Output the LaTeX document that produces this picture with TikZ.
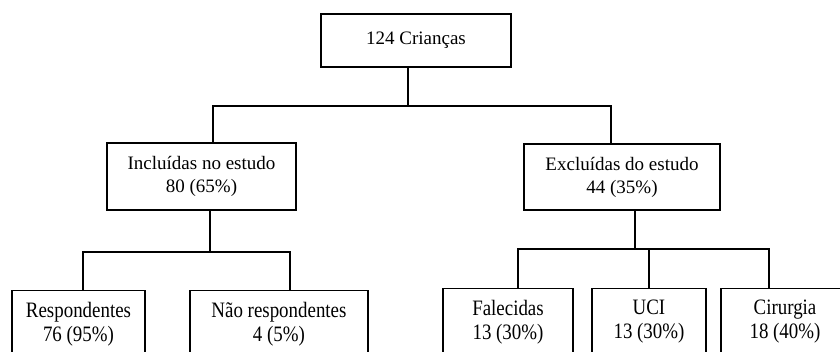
\documentclass[tikz,border=0pt]{standalone}
\usepackage{fontspec}
\setmainfont{Liberation Serif}
\newfontfamily\tallserif[FakeStretch=0.86]{Liberation Serif}
\usepackage{tikz}

\tikzset{
    box/.style={draw, line width=1.5pt, align=center, inner sep=2pt,
        font=\fontsize{19}{23}\selectfont},
    leaf/.style={box, minimum height=67pt,
        font=\tallserif\fontsize{22}{24}\selectfont},
    link/.style={line width=1.5pt}
}

\begin{document}
\begin{tikzpicture}[x=1pt, y=-1pt]
    % Frame
    \useasboundingbox (0,0) rectangle (840,351);
    \clip (0,0) rectangle (840,351);

    % Boxes
    \node [box, minimum width=190pt, minimum height=53pt] (total) at (416,40.5) {124 Crianças};
    \node [box, minimum width=189pt, minimum height=67pt] (incl) at (201.5,176.5) {Incluídas no estudo\\80 (65\%)};
    \node [box, minimum width=196pt, minimum height=66pt] (excl) at (622,177) {Excluídas do estudo\\44 (35\%)};
    \node [leaf, minimum width=133pt] (resp) at (78.5,324) {Respondentes\\76 (95\%)};
    \node [leaf, minimum width=178pt] (naor) at (279,324) {Não respondentes\\4 (5\%)};
    \node [leaf, minimum width=130pt] (fal) at (508,322) {Falecidas\\13 (30\%)};
    \node [leaf, minimum width=114pt] (uci) at (649,322) {UCI\\13 (30\%)};
    \node [leaf, minimum width=128pt] (cir) at (785,322) {Cirurgia\\18 (40\%)};

    % Junctions
    \coordinate (top) at (408,106);
    \coordinate (topL) at (213,106);
    \coordinate (topR) at (611,106);
    \coordinate (inc) at (210,252);
    \coordinate (incL) at (83,252);
    \coordinate (incR) at (290,252);
    \coordinate (exc) at (635,249);
    \coordinate (excL) at (518,249);
    \coordinate (excR) at (769,249);

    % Links
    \draw [link] (total.south -| top) -- (top);
    \draw [link] (incl.north -| topL) -- (topL) -- (topR) -- (excl.north -| topR);
    \draw [link] (incl.south -| inc) -- (inc);
    \draw [link] (resp.north -| incL) -- (incL) -- (incR) -- (naor.north -| incR);
    \draw [link] (excl.south -| exc) -- (exc);
    \draw [link] (fal.north -| excL) -- (excL) -- (excR) -- (cir.north -| excR);
    \draw [link] (uci.north) -- (uci.north |- exc);
\end{tikzpicture}
\end{document}
